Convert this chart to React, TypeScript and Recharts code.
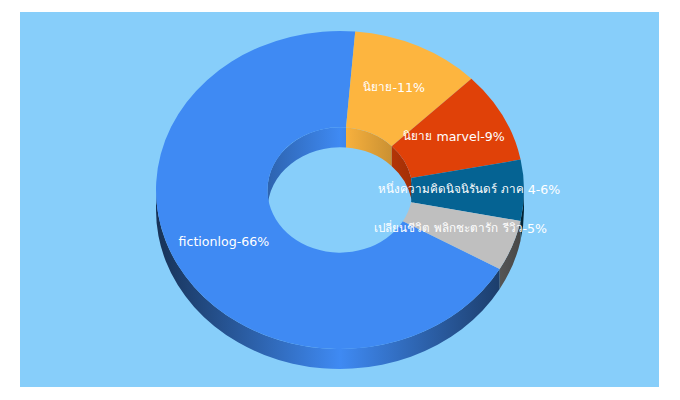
import { PieChart, Pie } from 'recharts'

const sliceNames = [
  'fictionlog',
  'นิยาย',
  'นิยาย marvel',
  'หนึ่งความคิดนิจนิรันดร์ ภาค 4',
  'เปลี่ยนชีวิต พลิกชะตารัก รีวิว',
]
const sliceValues = [66, 11, 9, 6, 5]
const sliceColors = ['#3f8af3', '#fdb53f', '#e04108', '#056393', '#bfbfbf']

const rows = sliceNames.map((name, i) => ({
  name,
  value: sliceValues[i],
  fill: sliceColors[i],
}))

const SQUASH = 0.864
const DEPTH = 20
const LABEL_RADIUS = 130
const RAD = Math.PI / 180

// theta is measured clockwise from the top of the ellipse
const pt = (cx: number, cy: number, r: number, theta: number, dy = 0) => [
  cx + r * Math.sin(theta * RAD),
  cy - r * SQUASH * Math.cos(theta * RAD) + dy,
]

function overlap(a: number, b: number, ranges: number[][]) {
  const out: number[][] = []
  for (const [lo, hi] of ranges) {
    const s = Math.max(a, lo)
    const e = Math.min(b, hi)
    if (e > s) out.push([s, e])
  }
  return out
}

function shade(hex: string, f: number) {
  const n = parseInt(hex.slice(1), 16)
  const c = [(n >> 16) & 255, (n >> 8) & 255, n & 255].map((v) => Math.round(v * f))
  return `rgb(${c.join(',')})`
}

function wallPath(cx: number, cy: number, r: number, s: number, e: number) {
  const ry = r * SQUASH
  const [x0, y0] = pt(cx, cy, r, s)
  const [x1, y1] = pt(cx, cy, r, e)
  return (
    `M${x0},${y0} A${r},${ry} 0 0 1 ${x1},${y1} L${x1},${y1 + DEPTH} ` +
    `A${r},${ry} 0 0 0 ${x0},${y0 + DEPTH} Z`
  )
}

function WallShape(props: any) {
  const { cx, cy, innerRadius, outerRadius, startAngle, endAngle, fill } = props
  const a = 90 - startAngle
  const b = 90 - endAngle
  const key = fill.slice(1)
  const front = overlap(a, b, [[90, 270], [450, 630]])
  const back = overlap(a, b, [[-90, 90], [270, 450]])
  return (
    <g>
      <defs>
        <linearGradient
          id={`outer-${key}`}
          gradientUnits="userSpaceOnUse"
          x1={cx - outerRadius}
          x2={cx + outerRadius}
          y1={0}
          y2={0}
        >
          <stop offset="0" stopColor={shade(fill, 0.36)} />
          <stop offset="0.5" stopColor={shade(fill, 1)} />
          <stop offset="1" stopColor={shade(fill, 0.36)} />
        </linearGradient>
        <linearGradient
          id={`inner-${key}`}
          gradientUnits="userSpaceOnUse"
          x1={cx - innerRadius}
          x2={cx + innerRadius}
          y1={0}
          y2={0}
        >
          <stop offset="0" stopColor={shade(fill, 0.72)} />
          <stop offset="0.5" stopColor={shade(fill, 1)} />
          <stop offset="1" stopColor={shade(fill, 0.72)} />
        </linearGradient>
      </defs>
      {back.map(([s, e]) => (
        <path key={`b${s}`} d={wallPath(cx, cy, innerRadius, s, e)} fill={`url(#inner-${key})`} />
      ))}
      {front.map(([s, e]) => (
        <path key={`f${s}`} d={wallPath(cx, cy, outerRadius, s, e)} fill={`url(#outer-${key})`} />
      ))}
    </g>
  )
}

function TopShape(props: any) {
  const { cx, cy, innerRadius, outerRadius, startAngle, endAngle, fill } = props
  const a = 90 - startAngle
  const b = 90 - endAngle
  const large = b - a > 180 ? 1 : 0
  const [ox0, oy0] = pt(cx, cy, outerRadius, a)
  const [ox1, oy1] = pt(cx, cy, outerRadius, b)
  const [ix0, iy0] = pt(cx, cy, innerRadius, a)
  const [ix1, iy1] = pt(cx, cy, innerRadius, b)
  const d =
    `M${ox0},${oy0} A${outerRadius},${outerRadius * SQUASH} 0 ${large} 1 ${ox1},${oy1} ` +
    `L${ix1},${iy1} A${innerRadius},${innerRadius * SQUASH} 0 ${large} 0 ${ix0},${iy0} Z`
  return <path d={d} fill={fill} />
}

// Thai runs come out wider than the reference, so they get a smaller size
function SliceLabel(props: any) {
  const { cx, cy, midAngle, name, value } = props
  const [x, y] = pt(cx, cy, LABEL_RADIUS, 90 - midAngle, -1.5)
  const runs = `${name}-${value}%`.split(/([\u0E00-\u0E7F]+)/).filter(Boolean)
  return (
    <text
      x={x - 1}
      y={y}
      fill="#ffffff"
      fontFamily="'DejaVu Sans', sans-serif"
      fontSize={12.6}
      textAnchor="middle"
      dominantBaseline="central"
    >
      {runs.map((run, i) => (
        <tspan key={i} fontSize={/[\u0E00-\u0E7F]/.test(run) ? 11.7 : 12.6}>
          {run}
        </tspan>
      ))}
    </text>
  )
}

export default function App() {
  const pieProps = {
    data: rows,
    dataKey: 'value',
    nameKey: 'name',
    cx: 340,
    cy: 190,
    innerRadius: 72.5,
    outerRadius: 184,
    startAngle: -29.8,
    endAngle: -389.8,
    stroke: 'none',
    isAnimationActive: false,
  }
  return (
    <div style={{ position: 'absolute', left: 0, top: 0, width: 680, height: 400 }}>
      <div
        style={{
          position: 'absolute',
          left: 20,
          top: 12,
          width: 639,
          height: 375,
          background: '#87cefa',
        }}
      />
      <div style={{ position: 'absolute', left: 0, top: 0 }}>
        <PieChart width={680} height={400} margin={{ top: 0, right: 0, bottom: 0, left: 0 }}>
          <Pie {...pieProps} shape={WallShape} label={false} labelLine={false} />
          <Pie {...pieProps} shape={TopShape} label={SliceLabel} labelLine={false} />
        </PieChart>
      </div>
    </div>
  )
}
